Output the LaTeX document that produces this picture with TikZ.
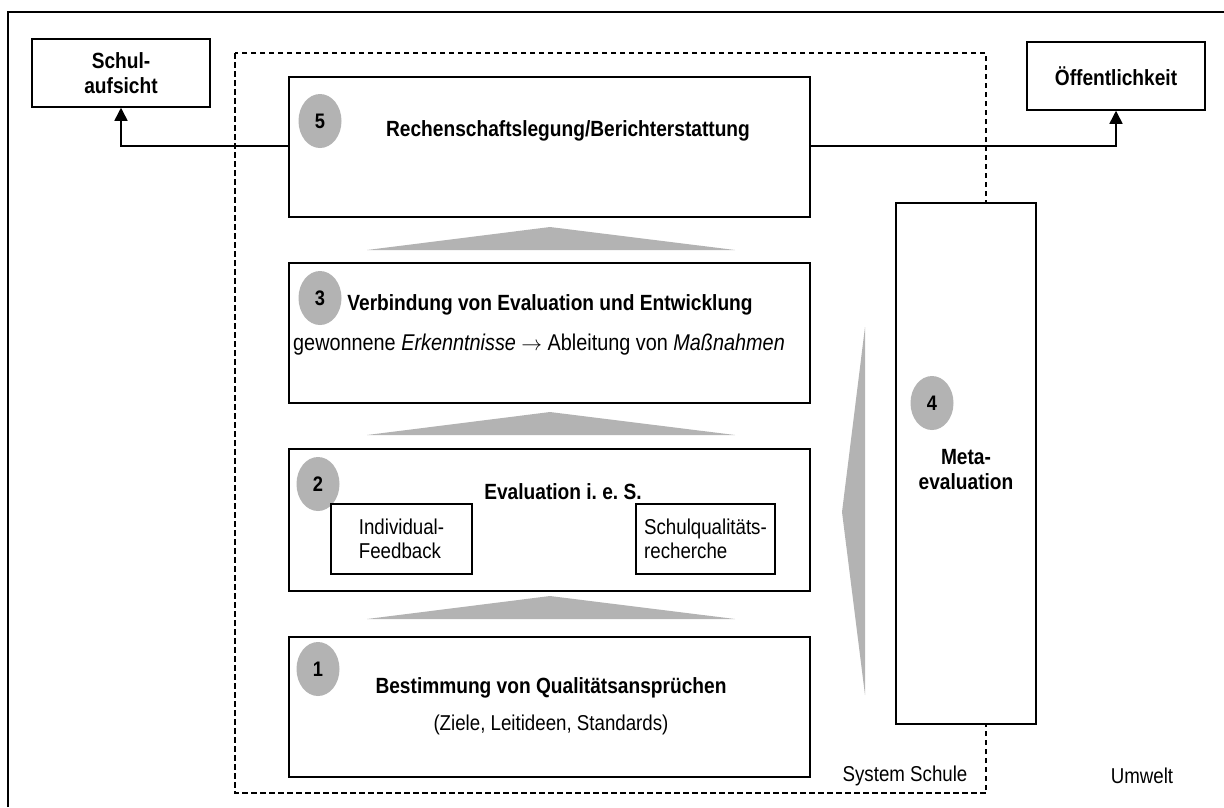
\documentclass[tikz,border=0pt]{standalone}
\usepackage{fontspec}
\setmainfont{Liberation Sans}[FakeStretch=0.87]
\usetikzlibrary{arrows.meta}
\definecolor{stepgray}{HTML}{B3B3B3}
\tikzset{
  box/.style={draw, line width=1.5pt, fill=white},
  numdot/.style={fill=stepgray, draw=none},
  numtxt/.style={font=\fontsize{21}{24}\selectfont\bfseries},
  bold/.style={font=\fontsize{22}{25}\selectfont\bfseries},
  plain/.style={font=\fontsize{21.5}{24}\selectfont},
  flow/.style={fill=stepgray, draw=none},
  link/.style={line width=1.5pt, -{Triangle[width=13pt,length=13pt]}},
}
\begin{document}
\begin{tikzpicture}[x=1pt, y=-1pt]
\useasboundingbox (0,0) rectangle (1224,807);

% outer frame (only left and top edges are inside the page)
\draw[line width=1.8pt] (8,807) -- (8,12) -- (1224,12);

% system boundary
\draw[dashed, dash pattern=on 5.5pt off 3.5pt, line width=1.5pt] (235,53) rectangle (986,793);

% process boxes
\draw[box] (289,77) rectangle (810,217);
\draw[box] (289,263) rectangle (810,403);
\draw[box] (289,449) rectangle (810,591);
\draw[box] (289,637) rectangle (810,777);
\draw[box] (896,203) rectangle (1036,724);

\node[box, minimum width=178pt, minimum height=68pt, inner sep=0pt] (schul) at (121,73) {};
\node[box, minimum width=178pt, minimum height=68pt, inner sep=0pt] (oeff) at (1116,76) {};
\node[bold, align=center] at (schul) {Schul-\\aufsicht};
\node[bold] at (oeff) {Öffentlichkeit};

% anchors of the reporting box for the outgoing links
\coordinate (b5w) at (289,146);
\coordinate (b5e) at (810,146);
\draw[link] (b5w) -| (schul.south);
\draw[link] (b5e) -| (oeff.south);

% upward flow wedges
\fill[flow] (367,250) -- (550,227) -- (735,250) -- cycle;
\fill[flow] (367,435) -- (550,412) -- (735,435) -- cycle;
\fill[flow] (367,619) -- (550,596) -- (735,619) -- cycle;
\fill[flow] (865,327) -- (842,512) -- (865,695) -- cycle;

% numbered markers
\foreach \n/\x/\y in {5/320/121, 3/320/298, 2/318/484, 1/318/669, 4/932/403}{
  \fill[numdot] (\x,\y) ellipse [x radius=21.5pt, y radius=27pt];
  \node[numtxt] (m\n) at (\x,\y) {\n};
}

% box texts
\node[bold] (t5) at (568,131) {Rechenschaftslegung/Berichterstattung};
\node[bold] (t3) at (550,305) {Verbindung von Evaluation und Entwicklung};
\node[plain, font=\fontsize{22.8}{26}\selectfont] (t3b) at (539,345) {gewonnene \textit{Erkenntnisse} $\rightarrow$ Ableitung von \textit{Maßnahmen}};
\node[bold] (t2) at (563,492) {Evaluation i.\ e.\ S.};
\node[box, minimum width=141pt, minimum height=70pt, inner sep=0pt] (indiv) at (401.5,539) {};
\node[plain, align=left] at (indiv) {Individual-\\Feedback};
\node[box, minimum width=139pt, minimum height=70pt, inner sep=0pt] (sq) at (705.5,539) {};
\node[plain, align=left] at (sq) {Schulqualitäts-\\recherche};
\node[bold] (t1) at (551,688) {Bestimmung von Qualitätsansprüchen};
\node[plain] (t1b) at (551,725) {(Ziele, Leitideen, Standards)};
\node[bold, align=center] (t4) at (966,470) {Meta-\\evaluation};

% region labels
\node[plain] (sys) at (905,776) {System Schule};
\node[plain] (env) at (1142,776) {Umwelt};
\end{tikzpicture}
\end{document}
